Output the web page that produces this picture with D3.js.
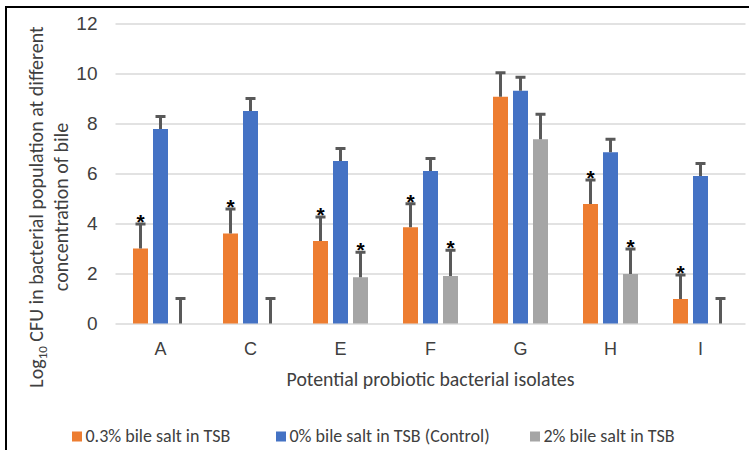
<!DOCTYPE html>
<html>
<head>
<meta charset="utf-8">
<script src="https://cdn.jsdelivr.net/npm/d3@7"></script>
<style>
  html, body { margin: 0; padding: 0; background: #fff; }
  svg { display: block; font-family: Carlito, Calibri, "Liberation Sans", Arial, sans-serif; }
</style>
</head>
<body>
<div id="chart"></div>
<script>
// isolates on the x axis
const categories = ["A", "C", "E", "F", "G", "H", "I"];
const seriesNames = ["0.3% bile salt in TSB", "0% bile salt in TSB (Control)", "2% bile salt in TSB"];
const seriesColors = ["#ED7D31", "#4472C4", "#A5A5A5"];

// log10 CFU means
const bile03 = [3.0, 3.6, 3.3, 3.85, 9.07, 4.78, 0.98];
const bile0 = [7.78, 8.5, 6.5, 6.1, 9.31, 6.85, 5.9];
const bile2 = [0, 0, 1.85, 1.9, 7.37, 1.98, 0];

// error bar sizes (+)
const err03 = [0.98, 0.98, 0.96, 0.94, 0.96, 0.96, 0.96];
const err0 = [0.5, 0.5, 0.5, 0.5, 0.54, 0.52, 0.5];
const err2 = [1.0, 1.0, 1.0, 1.03, 1.0, 1.0, 1.0];

// significance markers
const star03 = [true, true, true, true, false, true, true];
const star0 = [false, false, false, false, false, false, false];
const star2 = [false, false, true, true, false, true, false];

const yTicks = [0, 2, 4, 6, 8, 10, 12];

const W = 749, H = 450;
const m = { t: 23.5, r: 3.5, b: 126.5, l: 115.5 };
const iw = W - m.l - m.r, ih = H - m.t - m.b;

const svg = d3.select("#chart").append("svg").attr("width", W).attr("height", H);

// outer frame (only top/left edges visible in the crop)
svg.append("rect").attr("x", 6).attr("y", 7).attr("width", 800).attr("height", 500)
    .attr("fill", "none").attr("stroke", "#000").attr("stroke-width", 2);

const g = svg.append("g").attr("transform", `translate(${m.l},${m.t})`);

const x0 = d3.scaleBand().domain(categories).range([0, iw]).padding(0);
const x1 = d3.scaleBand().domain([0, 1, 2]).range([-30, 30]).paddingInner(0.25).paddingOuter(0.125);
const y = d3.scaleLinear().domain([0, 12]).range([ih, 0]);

// gridlines
g.append("g")
    .call(d3.axisLeft(y).tickValues(yTicks).tickSize(-iw).tickFormat(""))
    .call(s => s.select(".domain").remove())
    .call(s => s.selectAll("line").attr("stroke", "#D9D9D9").attr("stroke-width", 1.5));

// y tick labels
g.append("g")
    .call(d3.axisLeft(y).tickValues(yTicks).tickSize(0).tickPadding(18))
    .call(s => s.select(".domain").remove())
    .call(s => s.selectAll("text").attr("font-size", 19).attr("fill", "#404040")
        .attr("font-family", null));

// x axis labels
g.append("g").attr("transform", `translate(0,${ih})`)
    .call(d3.axisBottom(x0).tickSize(0).tickPadding(19))
    .call(s => s.select(".domain").remove())
    .call(s => s.selectAll("text").attr("font-size", 18).attr("fill", "#404040")
        .attr("font-family", null));

const rows = categories.map((c, i) => ({
    cat: c,
    vals: [bile03[i], bile0[i], bile2[i]],
    errs: [err03[i], err0[i], err2[i]],
    stars: [star03[i], star0[i], star2[i]]
}));

const groups = g.selectAll("g.grp").data(rows).enter().append("g")
    .attr("class", "grp")
    .attr("transform", d => `translate(${x0(d.cat) + x0.bandwidth() / 2},0)`);

const items = d => d.vals.map((v, k) => ({ k, v, e: d.errs[k], s: d.stars[k] }));

groups.selectAll("rect").data(items).enter().append("rect")
    .attr("x", d => x1(d.k)).attr("width", x1.bandwidth())
    .attr("y", d => y(d.v)).attr("height", d => ih - y(d.v))
    .attr("fill", d => seriesColors[d.k]);

// error bars
const eb = groups.selectAll("g.err").data(items).enter().append("g").attr("class", "err")
    .attr("stroke", "#595959").attr("stroke-width", 3);
eb.append("line")
    .attr("x1", d => x1(d.k) + x1.bandwidth() / 2).attr("x2", d => x1(d.k) + x1.bandwidth() / 2)
    .attr("y1", d => y(d.v)).attr("y2", d => y(d.v + d.e));
eb.append("line")
    .attr("x1", d => x1(d.k) + x1.bandwidth() / 2 - 5).attr("x2", d => x1(d.k) + x1.bandwidth() / 2 + 5)
    .attr("y1", d => y(d.v + d.e)).attr("y2", d => y(d.v + d.e));

// asterisks
groups.selectAll("text.star").data(d => items(d).filter(t => t.s)).enter().append("text")
    .attr("class", "star")
    .attr("x", d => x1(d.k) + x1.bandwidth() / 2)
    .attr("y", d => y(d.v + d.e) + 5)
    .attr("text-anchor", "middle").attr("font-size", 21).attr("font-weight", "bold")
    .attr("font-family", "'Liberation Sans', Arial, sans-serif")
    .attr("fill", "#000").text("*");

// x axis title
svg.append("text").attr("x", 430.5).attr("y", 386).attr("text-anchor", "middle")
    .attr("font-size", 19.8).attr("fill", "#404040").text("Potential probiotic bacterial isolates");

// y axis title
const yt = svg.append("text").attr("transform", "translate(43,207) rotate(-90)")
    .attr("text-anchor", "middle").attr("font-size", 20).attr("fill", "#404040");
const l1 = yt.append("tspan").attr("x", 0).attr("y", 0);
l1.append("tspan").text("Log");
l1.append("tspan").attr("font-size", 13).attr("dy", 4).text("10");
l1.append("tspan").attr("dy", -4).text(" CFU in bacterial population at different");
yt.append("tspan").attr("x", 0).attr("y", 25).text("concentration of bile");

// legend
const legX = [72, 276, 530];
const leg = svg.selectAll("g.leg").data(seriesNames).enter().append("g")
    .attr("class", "leg").attr("transform", (d, i) => `translate(${legX[i]},431.5)`);
leg.append("rect").attr("width", 10).attr("height", 10).attr("fill", (d, i) => seriesColors[i]);
leg.append("text").attr("x", 13.5).attr("y", 10.5).attr("font-size", 18).attr("fill", "#404040").text(d => d);
</script>
</body>
</html>
